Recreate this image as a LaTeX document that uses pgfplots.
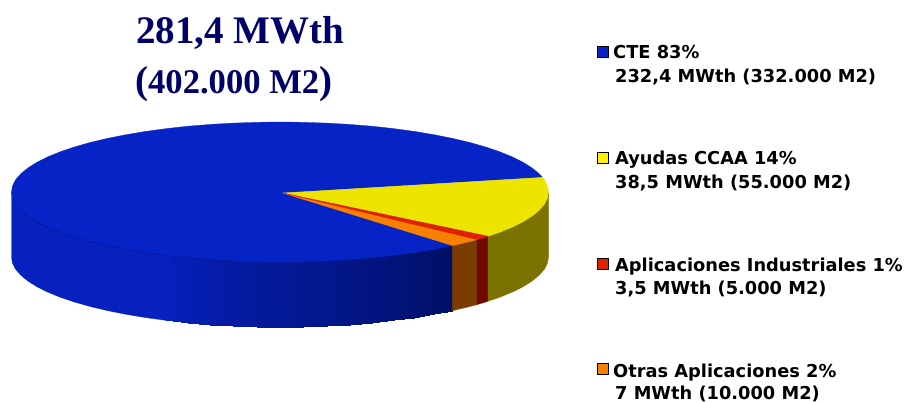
\documentclass[border=0pt]{standalone}
\usepackage{pgfplots}
\pgfplotsset{compat=1.18}
\usepackage{fontspec}
\setmainfont{DejaVu Sans}
\newfontfamily\titlefont{Liberation Serif}
\definecolor{ctetop}{HTML}{0623C6}
\definecolor{ayutop}{HTML}{EDE500}
\definecolor{ayuwall}{HTML}{7A7300}
\definecolor{indtop}{HTML}{E02000}
\definecolor{indwall}{HTML}{700800}
\definecolor{otrtop}{HTML}{F88000}
\definecolor{otrwall}{HTML}{7A3C00}
\definecolor{titlecol}{HTML}{00006A}
\definecolor{wallleft}{RGB}{6,33,190}
\newcommand{\legtext}[5]{%
  \node[anchor=base west,inner sep=0pt,text=black] at (axis cs:#1,#2) {\fontsize{17.8}{20}\selectfont\bfseries #3};
  \node[anchor=base west,inner sep=0pt,text=black] at (axis cs:615,#4) {\fontsize{17.8}{20}\selectfont\bfseries #5};}
\begin{document}
\begin{tikzpicture}
\begin{axis}[
  width=906pt,height=402pt,scale only axis,hide axis,
  xmin=0,xmax=906,ymin=0,ymax=402,y dir=reverse,clip=false,
  colormap={wallramp}{rgb255(0cm)=(0,16,104); rgb255(1cm)=(6,34,196)},
  point meta min=104,point meta max=196]
% walls, blue
\addplot[fill=wallleft,draw=wallleft,line width=0.3pt] coordinates {(11.5,192)(14,190)(167,250)(167,320.4)(166.5,320.4)(145.7,317.6)(126,314.3)(107.4,310.6)(90.1,306.5)(74.3,302)(60.1,297.2)(47.5,292)(36.7,286.6)(27.7,280.9)(20.7,275.1)(15.6,269.2)(12.5,263.1)(11.5,257)} -- cycle;
\addplot[patch,patch type=rectangle,shader=interp,point meta=explicit] table[meta=m] {
x y m
166.5 250 190
188.2 250 178
188.2 322.8 178
166.5 320.4 190
188.2 250 178
210.5 250 170
210.5 324.6 170
188.2 322.8 178
210.5 250 170
233.4 250 163
233.4 325.9 163
210.5 324.6 170
233.4 250 163
256.6 250 157
256.6 326.7 157
233.4 325.9 163
256.6 250 157
280 250 151
280 327 151
256.6 326.7 157
280 250 151
303.4 250 145
303.4 326.7 145
280 327 151
303.4 250 145
326.6 250 139
326.6 325.9 139
303.4 326.7 145
326.6 250 139
349.5 250 133
349.5 324.6 133
326.6 325.9 139
349.5 250 133
371.8 250 127
371.8 322.8 127
349.5 324.6 133
371.8 250 127
393.5 250 121
393.5 320.4 121
371.8 322.8 127
393.5 250 121
414.3 248 115
414.3 317.6 115
393.5 320.4 121
414.3 248 115
434 245 108
434 314.3 108
414.3 317.6 115
434 245 108
452.6 242 104
452.6 310.6 104
434 314.3 108
};
% walls of the three other slices
\addplot[fill=otrwall,draw=otrwall,line width=0.3pt] coordinates {(452.6,245.6)(469.9,241.5)(477,239.6)(477,304.6)(469.9,306.5)(452.6,310.6)} -- cycle;
\addplot[fill=indwall,draw=indwall,line width=0.3pt] coordinates {(477,239.6)(485.7,237)(488.1,236.2)(488.1,301.2)(485.7,302)(477,304.6)} -- cycle;
\addplot[fill=ayuwall,draw=ayuwall,line width=0.3pt] coordinates {(488.1,236.2)(499.9,232.2)(512.5,227)(523.3,221.6)(532.3,215.9)(539.3,210.1)(544.4,204.2)(547.5,198.1)(548.5,192)(548.5,257)(547.5,263.1)(544.4,269.2)(539.3,275.1)(532.3,280.9)(523.3,286.6)(512.5,292)(499.9,297.2)(488.1,301.2)} -- cycle;
% top faces
\addplot[fill=ctetop,draw=ctetop,line width=0.3pt] coordinates {(283,193)(452.6,245.6)(434,249.3)(414.3,252.6)(393.5,255.4)(371.8,257.8)(349.5,259.6)(326.6,260.9)(303.4,261.7)(280,262)(256.6,261.7)(233.4,260.9)(210.5,259.6)(188.2,257.8)(166.5,255.4)(145.7,252.6)(126,249.3)(107.4,245.6)(90.1,241.5)(74.3,237)(60.1,232.2)(47.5,227)(36.7,221.6)(27.7,215.9)(20.7,210.1)(15.6,204.2)(12.5,198.1)(11.5,192)(12.5,185.9)(15.6,179.8)(20.7,173.9)(27.7,168.1)(36.7,162.4)(47.5,157)(60.1,151.8)(74.3,147)(90.1,142.5)(107.4,138.4)(126,134.7)(145.7,131.4)(166.5,128.6)(188.2,126.2)(210.5,124.4)(233.4,123.1)(256.6,122.3)(280,122)(303.4,122.3)(326.6,123.1)(349.5,124.4)(371.8,126.2)(393.5,128.6)(414.3,131.4)(434,134.7)(452.6,138.4)(469.9,142.5)(485.7,147)(499.9,151.8)(512.5,157)(523.3,162.4)(532.3,168.1)(539.3,173.9)(542.6,177.4)} -- cycle;
\addplot[fill=ayutop,draw=ayutop,line width=0.3pt] coordinates {(283,193)(542.6,177.4)(544.4,179.8)(547.5,185.9)(548.5,192)(547.5,198.1)(544.4,204.2)(539.3,210.1)(532.3,215.9)(523.3,221.6)(512.5,227)(499.9,232.2)(488.1,236.2)} -- cycle;
\addplot[fill=otrtop,draw=otrtop,line width=0.3pt] coordinates {(283,193)(477,239.6)(469.9,241.5)(452.6,245.6)} -- cycle;
\addplot[fill=indtop,draw=indtop,line width=0.3pt] coordinates {(283,193)(488.1,236.2)(485.7,237)(477,239.6)} -- cycle;
% faint seam between top and wall
\addplot[draw={rgb,255:red,0;green,14;blue,110},line width=0.5pt,dash pattern=on 3pt off 2pt] coordinates {(20.7,210.1)(27.7,215.9)(36.7,221.6)(47.5,227)(60.1,232.2)(74.3,237)(90.1,241.5)(107.4,245.6)(126,249.3)(145.7,252.6)(166.5,255.4)(188.2,257.8)(210.5,259.6)(233.4,260.9)};
% legend swatches
\addplot[fill=ctetop,draw=black,line width=1pt] coordinates {(597.5,46.5)(608.5,46.5)(608.5,57.5)(597.5,57.5)} -- cycle;
\addplot[fill=yellow,draw=black,line width=1pt] coordinates {(597.5,152.5)(608.5,152.5)(608.5,163.5)(597.5,163.5)} -- cycle;
\addplot[fill=indtop,draw=black,line width=1pt] coordinates {(597.5,258)(608.5,258)(608.5,269)(597.5,269)} -- cycle;
\addplot[fill=otrtop,draw=black,line width=1pt] coordinates {(597.5,363.5)(608.5,363.5)(608.5,374.5)(597.5,374.5)} -- cycle;
% legend text
\legtext{613}{58}{CTE 83\%}{82}{232,4 MWth (332.000 M2)}
\legtext{615}{164}{Ayudas CCAA 14\%}{188}{38,5 MWth (55.000 M2)}
\legtext{615}{271}{Aplicaciones Industriales 1\%}{294}{3,5 MWth (5.000 M2)}
\legtext{613}{377}{Otras Aplicaciones 2\%}{399}{7 MWth (10.000 M2)}
% title
\node[anchor=base west,inner sep=0pt,text=titlecol] at (axis cs:136,43.5) {\titlefont\bfseries\fontsize{39}{40}\selectfont 281,4 MWth};
\node[anchor=base west,inner sep=0pt,text=titlecol] at (axis cs:135,93) {\titlefont\bfseries\fontsize{39}{40}\selectfont (\fontsize{34.6}{40}\selectfont 402.000 M2\fontsize{39}{40}\selectfont)};
\end{axis}
\pgfresetboundingbox
\useasboundingbox (0,0) rectangle (906pt,402pt);
\end{tikzpicture}
\end{document}
